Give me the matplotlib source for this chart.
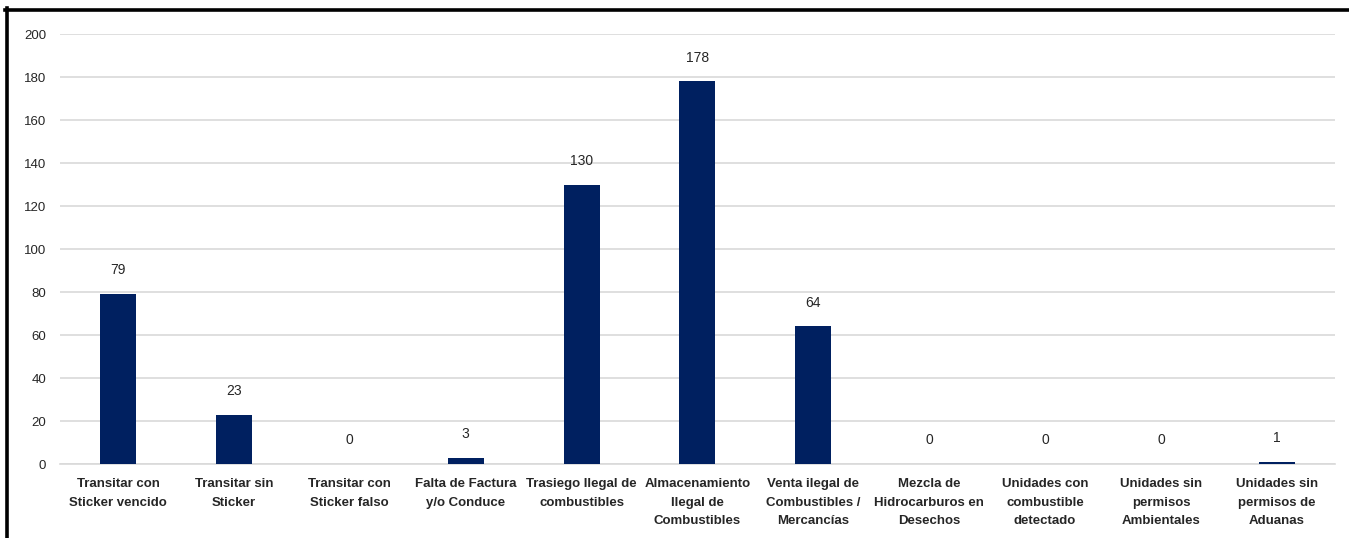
import numpy as np
import matplotlib.pyplot as plt
from matplotlib.lines import Line2D

categories = [
    'Transitar con\nSticker vencido',
    'Transitar sin\nSticker',
    'Transitar con\nSticker falso',
    'Falta de Factura\ny/o Conduce',
    'Trasiego Ilegal de\ncombustibles',
    'Almacenamiento\nIlegal de\nCombustibles',
    'Venta ilegal de\nCombustibles /\nMercancías',
    'Mezcla de\nHidrocarburos en\nDesechos',
    'Unidades con\ncombustible\ndetectado',
    'Unidades sin\npermisos\nAmbientales',
    'Unidades sin\npermisos de\nAduanas',
]
values = [79, 23, 0, 3, 130, 178, 64, 0, 0, 0, 1]

fonts = ['Liberation Sans Narrow', 'Liberation Sans', 'DejaVu Sans']
plt.rcParams['font.family'] = fonts

fig = plt.figure(figsize=(13.49, 5.38), dpi=100)
ax = fig.add_axes([0.0445, 0.1375, 0.945, 0.7993])

x = np.arange(len(categories))
ax.bar(x, values, width=0.31, color='#002060', zorder=3)

for xi, v in zip(x, values):
    ax.annotate(str(v), (xi, v), xytext=(0, 12), textcoords='offset points',
                ha='center', va='bottom', fontsize=10, color='#262626')

ax.set_xlim(-0.5, len(categories) - 0.5)
ax.set_ylim(0, 200)
ax.set_yticks(np.arange(0, 201, 20))
ax.set_xticks(x)
ax.set_xticklabels(categories, fontsize=9.5, color='#262626', fontweight='bold',
                   linespacing=1.75)
ax.tick_params(axis='both', length=0)
ax.tick_params(axis='x', pad=10)
ax.tick_params(axis='y', pad=10, labelsize=9.5, labelcolor='#262626')
ax.yaxis.grid(True, color='#d9d9d9', linewidth=1.2, zorder=0)
for s in ['top', 'right', 'left']:
    ax.spines[s].set_visible(False)
ax.spines['bottom'].set_color('#d9d9d9')
ax.spines['bottom'].set_linewidth(1.2)

# frame lines at top and left of the image
fig.add_artist(Line2D([5 / 1349, 1], [1 - 9.5 / 538, 1 - 9.5 / 538],
                      transform=fig.transFigure, color='black', linewidth=2.6))
fig.add_artist(Line2D([6.5 / 1349, 6.5 / 1349], [0, 1 - 8 / 538],
                      transform=fig.transFigure, color='black', linewidth=2.6))

fig.savefig('out.png', dpi=100)
